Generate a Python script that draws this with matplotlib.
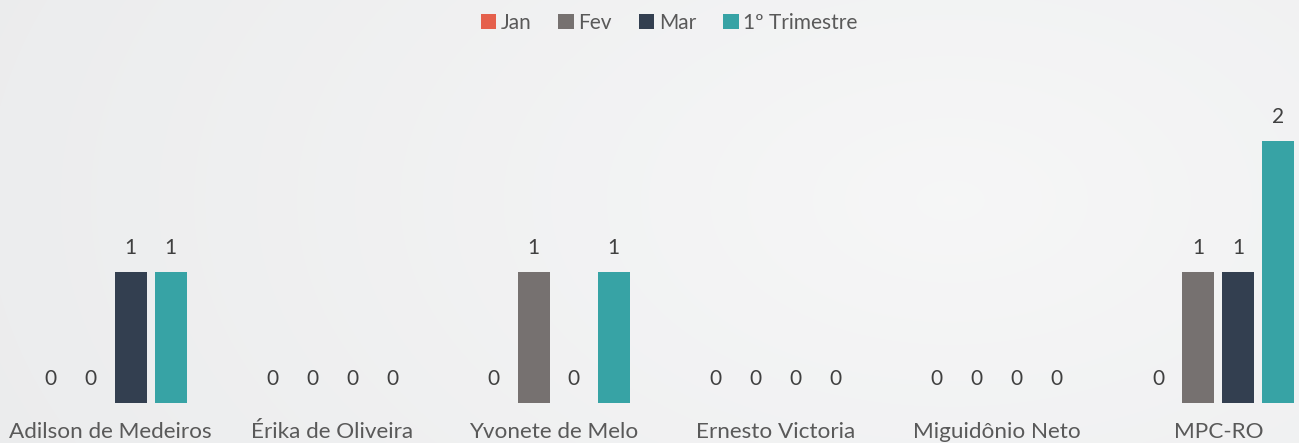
import numpy as np
import matplotlib.pyplot as plt

# Data
categories = ["Adilson de Medeiros", "Érika de Oliveira", "Yvonete de Melo",
              "Ernesto Victoria", "Miguidônio Neto", "MPC-RO"]
series_names = ["Jan", "Fev", "Mar", "1º Trimestre"]
jan = [0, 0, 0, 0, 0, 0]
fev = [0, 0, 1, 0, 0, 1]
mar = [1, 0, 0, 0, 0, 1]
trimestre = [1, 0, 1, 0, 0, 2]
colors = ["#E5604C", "#767170", "#333F50", "#37A3A5"]

W, H, DPI = 1299, 443, 100
GROUP_PX = 221.5
UNIT_PX = 131
BASE_PX = 403

fig = plt.figure(figsize=(W / DPI, H / DPI), dpi=DPI)

# subtle radial background
bg = fig.add_axes([0, 0, 1, 1], zorder=0)
yy, xx = np.mgrid[0:H, 0:W]
d = np.sqrt(((xx - 950) / 1000.0) ** 2 + ((yy - 200) / 600.0) ** 2)
d = np.clip(d, 0, 1)
light = np.array([0.965, 0.966, 0.968])
dark = np.array([0.925, 0.928, 0.932])
img = light[None, None, :] * (1 - d[..., None]) + dark[None, None, :] * d[..., None]
bg.imshow(img, aspect="auto", extent=[0, 1, 0, 1])
bg.axis("off")

ax = fig.add_axes([0, 0, 1, 1], zorder=1)
ax.patch.set_alpha(0)
x = np.arange(len(categories))
bw = 32 / GROUP_PX
offsets = np.array([-60, -20, 20, 60]) / GROUP_PX
font = "Lato"
txt_color = "#404040"

for vals, name, col, off in zip([jan, fev, mar, trimestre], series_names, colors, offsets):
    ax.bar(x + off, vals, width=bw, color=col, label=name, linewidth=0)
    for xi, v in zip(x + off, vals):
        ax.annotate(str(v), (xi, v), xytext=(0, 17), textcoords="offset points",
                    ha="center", va="center", fontsize=15, color=txt_color,
                    family=font)

for xi, c in zip(x, categories):
    ax.text(xi, -(432 - BASE_PX) / UNIT_PX, c, ha="center", va="center",
            fontsize=16.2, color="#595959", family=font)

ax.set_xlim(-0.5, W / GROUP_PX - 0.5)
ax.set_ylim(-(H - BASE_PX) / UNIT_PX, BASE_PX / UNIT_PX)
ax.axis("off")

leg = fig.legend(loc="upper center", bbox_to_anchor=(0.515, 1.013), ncol=4,
                 frameon=False, handlelength=0.75, handleheight=0.75,
                 handletextpad=0.2, columnspacing=1.3,
                 prop={"family": font, "size": 15})
for t in leg.get_texts():
    t.set_color("#595959")

fig.savefig("out.png", dpi=DPI)
